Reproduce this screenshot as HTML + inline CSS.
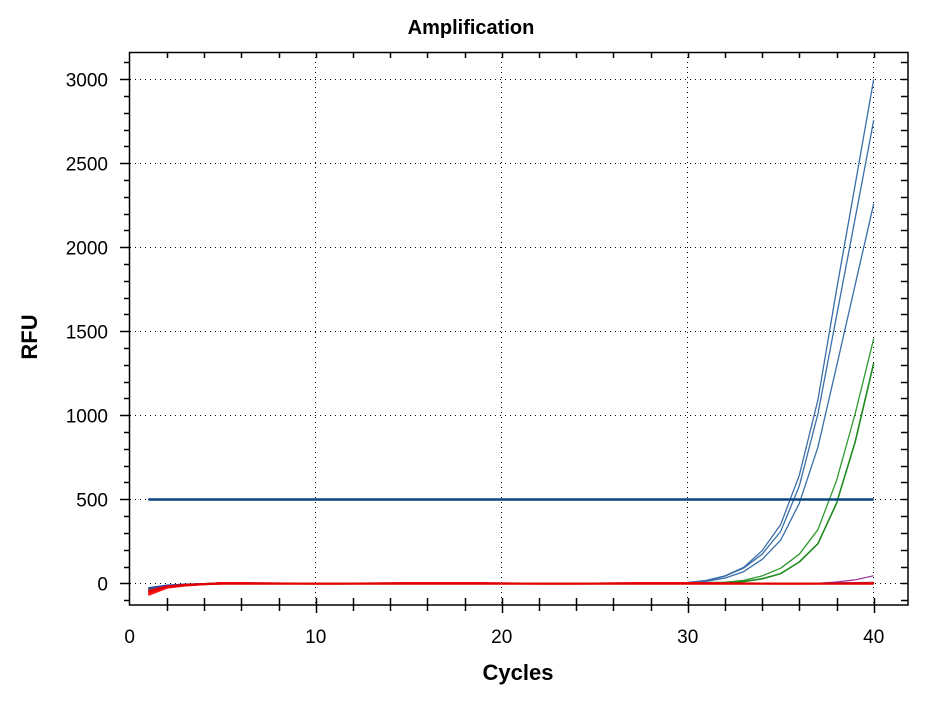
<!DOCTYPE html>
<html><head><meta charset="utf-8"><style>
html,body{margin:0;padding:0;background:#fff;}
svg{display:block;}
text{font-family:"Liberation Sans",Arial,sans-serif;fill:#000;}
</style></head><body>
<svg width="941" height="704" viewBox="0 0 941 704" xmlns="http://www.w3.org/2000/svg">
<text x="471" y="34" font-size="20" font-weight="bold" text-anchor="middle">Amplification</text>
<text x="518" y="680" font-size="22" font-weight="bold" text-anchor="middle">Cycles</text>
<text transform="translate(37,337) rotate(-90)" font-size="22" font-weight="bold" text-anchor="middle">RFU</text>
<g id="grid" stroke="#000" stroke-width="1" stroke-dasharray="1,4">
<line x1="130" x2="908" y1="79.5" y2="79.5"/>
<line x1="130" x2="908" y1="163.5" y2="163.5"/>
<line x1="130" x2="908" y1="247.5" y2="247.5"/>
<line x1="130" x2="908" y1="331.5" y2="331.5"/>
<line x1="130" x2="908" y1="415.5" y2="415.5"/>
<line x1="130" x2="908" y1="499.5" y2="499.5"/>
<line x1="130" x2="908" y1="583.5" y2="583.5"/>
<line x1="315.5" x2="315.5" y1="52" y2="605"/>
<line x1="501.5" x2="501.5" y1="52" y2="605"/>
<line x1="687.5" x2="687.5" y1="52" y2="605"/>
<line x1="873.5" x2="873.5" y1="52" y2="605"/>
</g>
<rect x="129.5" y="52.5" width="778.5" height="552.5" fill="none" stroke="#000" stroke-width="1.5"/>
<g stroke="#000" stroke-width="1.5" id="ticks"></g>
<g fill="none" stroke-linejoin="round" id="series"></g>
<g font-size="19" id="labels"></g>
</svg>
<script>
var NS="http://www.w3.org/2000/svg";
function X(c){return 129.7+18.6*c;}
function Y(v){return 583.3-0.168*v;}
var t=document.getElementById("ticks"),s=document.getElementById("series"),L=document.getElementById("labels");
function ln(g,x1,y1,x2,y2,w,col){var e=document.createElementNS(NS,"line");e.setAttribute("x1",x1);e.setAttribute("y1",y1);e.setAttribute("x2",x2);e.setAttribute("y2",y2);if(w)e.setAttribute("stroke-width",w);if(col)e.setAttribute("stroke",col);g.appendChild(e);}
for(var v=-100;v<=3100;v+=100){var y=Math.round(Y(v))+0.5;if(y<53||y>604)continue;var maj=v%500==0;ln(t,maj?120:124,y,129.5,y);ln(t,901,y,908,y);}
for(var c=2;c<=40;c+=2){var x=Math.round(X(c))+0.5;var maj=c%10==0;ln(t,x,598,x,maj?613:611);ln(t,x,52,x,58);}
for(var v=0;v<=3000;v+=500){var e=document.createElementNS(NS,"text");e.setAttribute("x",108);e.setAttribute("y",Y(v)+7);e.setAttribute("text-anchor","end");e.textContent=v;L.appendChild(e);}
for(var c=0;c<=40;c+=10){var e=document.createElementNS(NS,"text");e.setAttribute("x",X(c));e.setAttribute("y",643);e.setAttribute("text-anchor","middle");e.textContent=c;L.appendChild(e);}
function poly(vals,col,w){var p=[];for(var i=0;i<vals.length;i++)p.push(X(i+1).toFixed(1)+","+Y(vals[i]).toFixed(1));var e=document.createElementNS(NS,"polyline");e.setAttribute("points",p.join(" "));e.setAttribute("stroke",col);e.setAttribute("stroke-width",w||1.2);s.appendChild(e);}
function base(start,n){var a=[start,start*0.4,start*0.2,start*0.1];while(a.length<n)a.push(Math.sin(a.length*0.5)*3);return a;}
function amp(tail){var a=base(-35,40-tail.length);return a.concat(tail);}
poly(base(-30,40).slice(0,36).concat([0,8,20,45]),"#9a2fa0",1.2);
poly(amp([5,17,44,94,194,350,643,1091,1745,2370,3000]),"#3a6ea8",1.3);
poly(amp([5,16,42,90,173,309,580,1008,1590,2170,2756]),"#3a6ea8",1.3);
poly(amp([4,12,31,69,142,257,476,810,1290,1775,2259]),"#3a6ea8",1.3);
poly(amp([2,4,6,17,44,90,173,319,611,1008,1456]),"#2e9a2e",1.3);
poly(amp([1,3,5,10,27,58,127,236,476,840,1310]),"#1f8a1f",1.6);
var e=document.createElementNS(NS,"line");e.setAttribute("x1",X(1));e.setAttribute("x2",X(40));e.setAttribute("y1",499.5);e.setAttribute("y2",499.5);e.setAttribute("stroke","#0a4582");e.setAttribute("stroke-width",2.4);s.appendChild(e);
poly(base(-28,40).map(function(v,i){return i>34?v+3:v;}),"#2b3fa0",1.5);
poly(base(-40,40).map(function(v,i){return i>34?0:v;}),"#6a3a9a",1.3);
[-45,-55,-62,-70].forEach(function(st,k){var a=base(st,40).map(function(v,i){return i>4?v*0.6+(k-1.5)*0.8:v;});poly(a,"#ff1010",1.6);});
poly(base(-50,40).map(function(v,i){return i>3?-2:v;}),"#e00000",2.2);
</script>
</body></html>
